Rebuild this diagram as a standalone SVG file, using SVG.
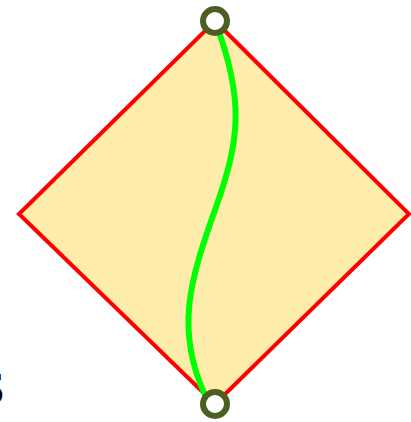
<svg xmlns="http://www.w3.org/2000/svg" width="411" height="422" viewBox="0 0 411 422">
<style>
.diamond{fill:#feecaa;stroke:#ff0000;stroke-width:4;stroke-linejoin:miter}
.curve{fill:none;stroke:#00ff00;stroke-width:6;stroke-linecap:round}
.port{fill:#ffffff;stroke:#4d5e22;stroke-width:6}
.lbl{font-family:"Liberation Serif",serif;font-size:46px;fill:#000}
</style>
<g id="region">
<polygon class="diamond" points="215,21 409,214 215,404 19,214"/>
</g>
<g id="connectors">
<path class="curve" d="M215,21 C245,100 240,140 215,210 C190,280 175,330 205,395"/>
</g>
<g id="top-node"><circle class="port" cx="215" cy="21" r="12"/></g>
<g id="bottom-node"><circle class="port" cx="215" cy="404" r="12"/></g>
<text class="lbl" x="5" y="404" text-anchor="end">S</text>
</svg>
